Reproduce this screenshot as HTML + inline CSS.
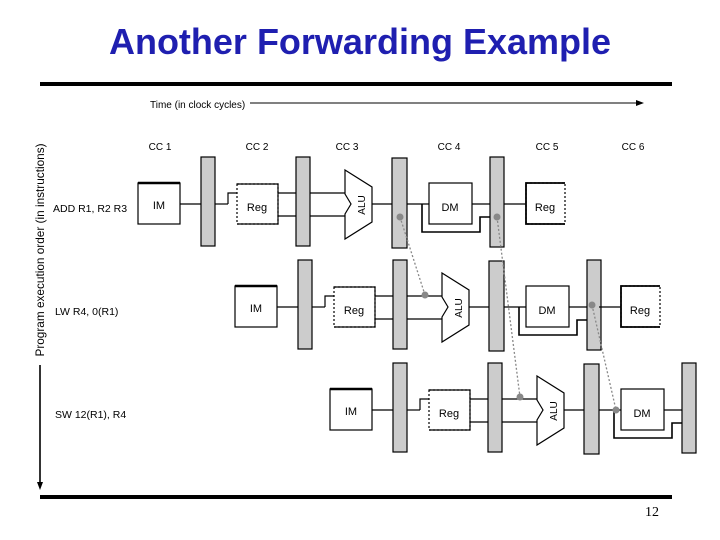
<!DOCTYPE html>
<html><head><meta charset="utf-8"><style>
html,body{margin:0;padding:0;background:#fff;}
svg{display:block;}
text{font-family:"Liberation Sans",sans-serif;}
</style></head><body>
<svg width="720" height="540" viewBox="0 0 720 540" xmlns="http://www.w3.org/2000/svg">
<defs>
<g id="row" fill="none" stroke="#000" stroke-width="1.2">
  <rect x="138" y="183" width="42" height="41" fill="#fff"/>
  <line x1="138" y1="183" x2="180" y2="183" stroke-width="2.5"/>
  <text x="159" y="209" font-size="11" text-anchor="middle" fill="#000" stroke="none">IM</text>
  <line x1="180" y1="204" x2="201" y2="204"/>
  <rect x="201" y="157" width="14" height="89" fill="#ccc"/>
  <line x1="215" y1="204" x2="228" y2="204"/>
  <polyline points="228,204 228,193 237,193"/>
  <rect x="237" y="184" width="41" height="40" fill="#fff" stroke-dasharray="2,2"/>
  <polyline points="237,184 278,184 278,224 237,224"/>
  <text x="257" y="211" font-size="11" text-anchor="middle" fill="#000" stroke="none">Reg</text>
  <line x1="278" y1="193" x2="296" y2="193"/>
  <line x1="278" y1="216" x2="296" y2="216"/>
  <rect x="296" y="157" width="14" height="89" fill="#ccc"/>
  <line x1="310" y1="193" x2="348" y2="193"/>
  <line x1="310" y1="216" x2="348" y2="216"/>
  <polygon points="345,170 372,187 372,222 345,239 345,214 351,204 345,194" fill="#fff"/>
  <text x="0" y="0" font-size="10" text-anchor="middle" fill="#000" stroke="none" transform="translate(365,205) rotate(-90)">ALU</text>
  <line x1="372" y1="204" x2="392" y2="204"/>
  <rect x="392" y="158" width="15" height="90" fill="#ccc"/>
  <line x1="407" y1="204" x2="429" y2="204"/>
  <rect x="429" y="183" width="43" height="41" fill="#fff"/>
  <text x="450" y="211" font-size="11" text-anchor="middle" fill="#000" stroke="none">DM</text>
  <polyline points="422,204 422,232 480,232 480,217 490,217" stroke-width="1.6"/>
  <line x1="472" y1="204" x2="490" y2="204"/>
  <rect x="490" y="157" width="14" height="90" fill="#ccc"/>
</g>
<g id="reg" fill="none" stroke="#000" stroke-width="1.2">
  <line x1="504" y1="204" x2="526" y2="204"/>
  <rect x="526" y="183" width="39" height="41" fill="#fff" stroke-dasharray="2,2"/>
  <polyline points="565,183 526,183 526,224 565,224" stroke-width="1.8"/>
  <text x="545" y="211" font-size="11" text-anchor="middle" fill="#000" stroke="none">Reg</text>
</g>
</defs>

<text x="360" y="54" font-size="36" font-weight="bold" fill="#1f1fb0" text-anchor="middle">Another Forwarding Example</text>
<rect x="40" y="82" width="632" height="4" fill="#000"/>
<rect x="40" y="495" width="632" height="4" fill="#000"/>
<text x="652" y="516" font-size="14" text-anchor="middle" style="font-family:'Liberation Serif',serif">12</text>

<text x="150" y="108" font-size="10" fill="#000">Time (in clock cycles)</text>
<line x1="250" y1="103" x2="638" y2="103" stroke="#000" stroke-width="1"/>
<polygon points="644,103 636,100 636,106" fill="#000"/>

<g font-size="10" fill="#000" text-anchor="middle">
<text x="160" y="150">CC 1</text><text x="257" y="150">CC 2</text><text x="347" y="150">CC 3</text>
<text x="449" y="150">CC 4</text><text x="547" y="150">CC 5</text><text x="633" y="150">CC 6</text>
</g>

<text x="0" y="0" font-size="11.8" fill="#000" text-anchor="middle" transform="translate(44,250) rotate(-90)">Program execution order (in instructions)</text>
<line x1="40" y1="365" x2="40" y2="484" stroke="#000" stroke-width="1.6"/>
<polygon points="40,490 37,482 43,482" fill="#000"/>

<g font-size="10.5" fill="#000">
<text x="53" y="212">ADD  R1, R2 R3</text>
<text x="55" y="315">LW R4, 0(R1)</text>
<text x="55" y="418">SW 12(R1), R4</text>
</g>

<use href="#row"/>
<use href="#reg"/>
<use href="#row" transform="translate(97,103)"/>
<use href="#reg" transform="translate(95,103)"/>
<use href="#row" transform="translate(192,206)"/>

<g stroke="#888" stroke-width="1.3" stroke-dasharray="2,2" fill="none">
<line x1="400" y1="217" x2="425" y2="295"/>
<line x1="497" y1="217" x2="520" y2="397"/>
<line x1="592" y1="305" x2="616" y2="410"/>
</g>
<g fill="#888">
<circle cx="400" cy="217" r="3.5"/><circle cx="497" cy="217" r="3.5"/>
<circle cx="425" cy="295" r="3.5"/><circle cx="592" cy="305" r="3.5"/>
<circle cx="520" cy="397" r="3.5"/><circle cx="616" cy="410" r="3.5"/>
</g>
</svg>
</body></html>
